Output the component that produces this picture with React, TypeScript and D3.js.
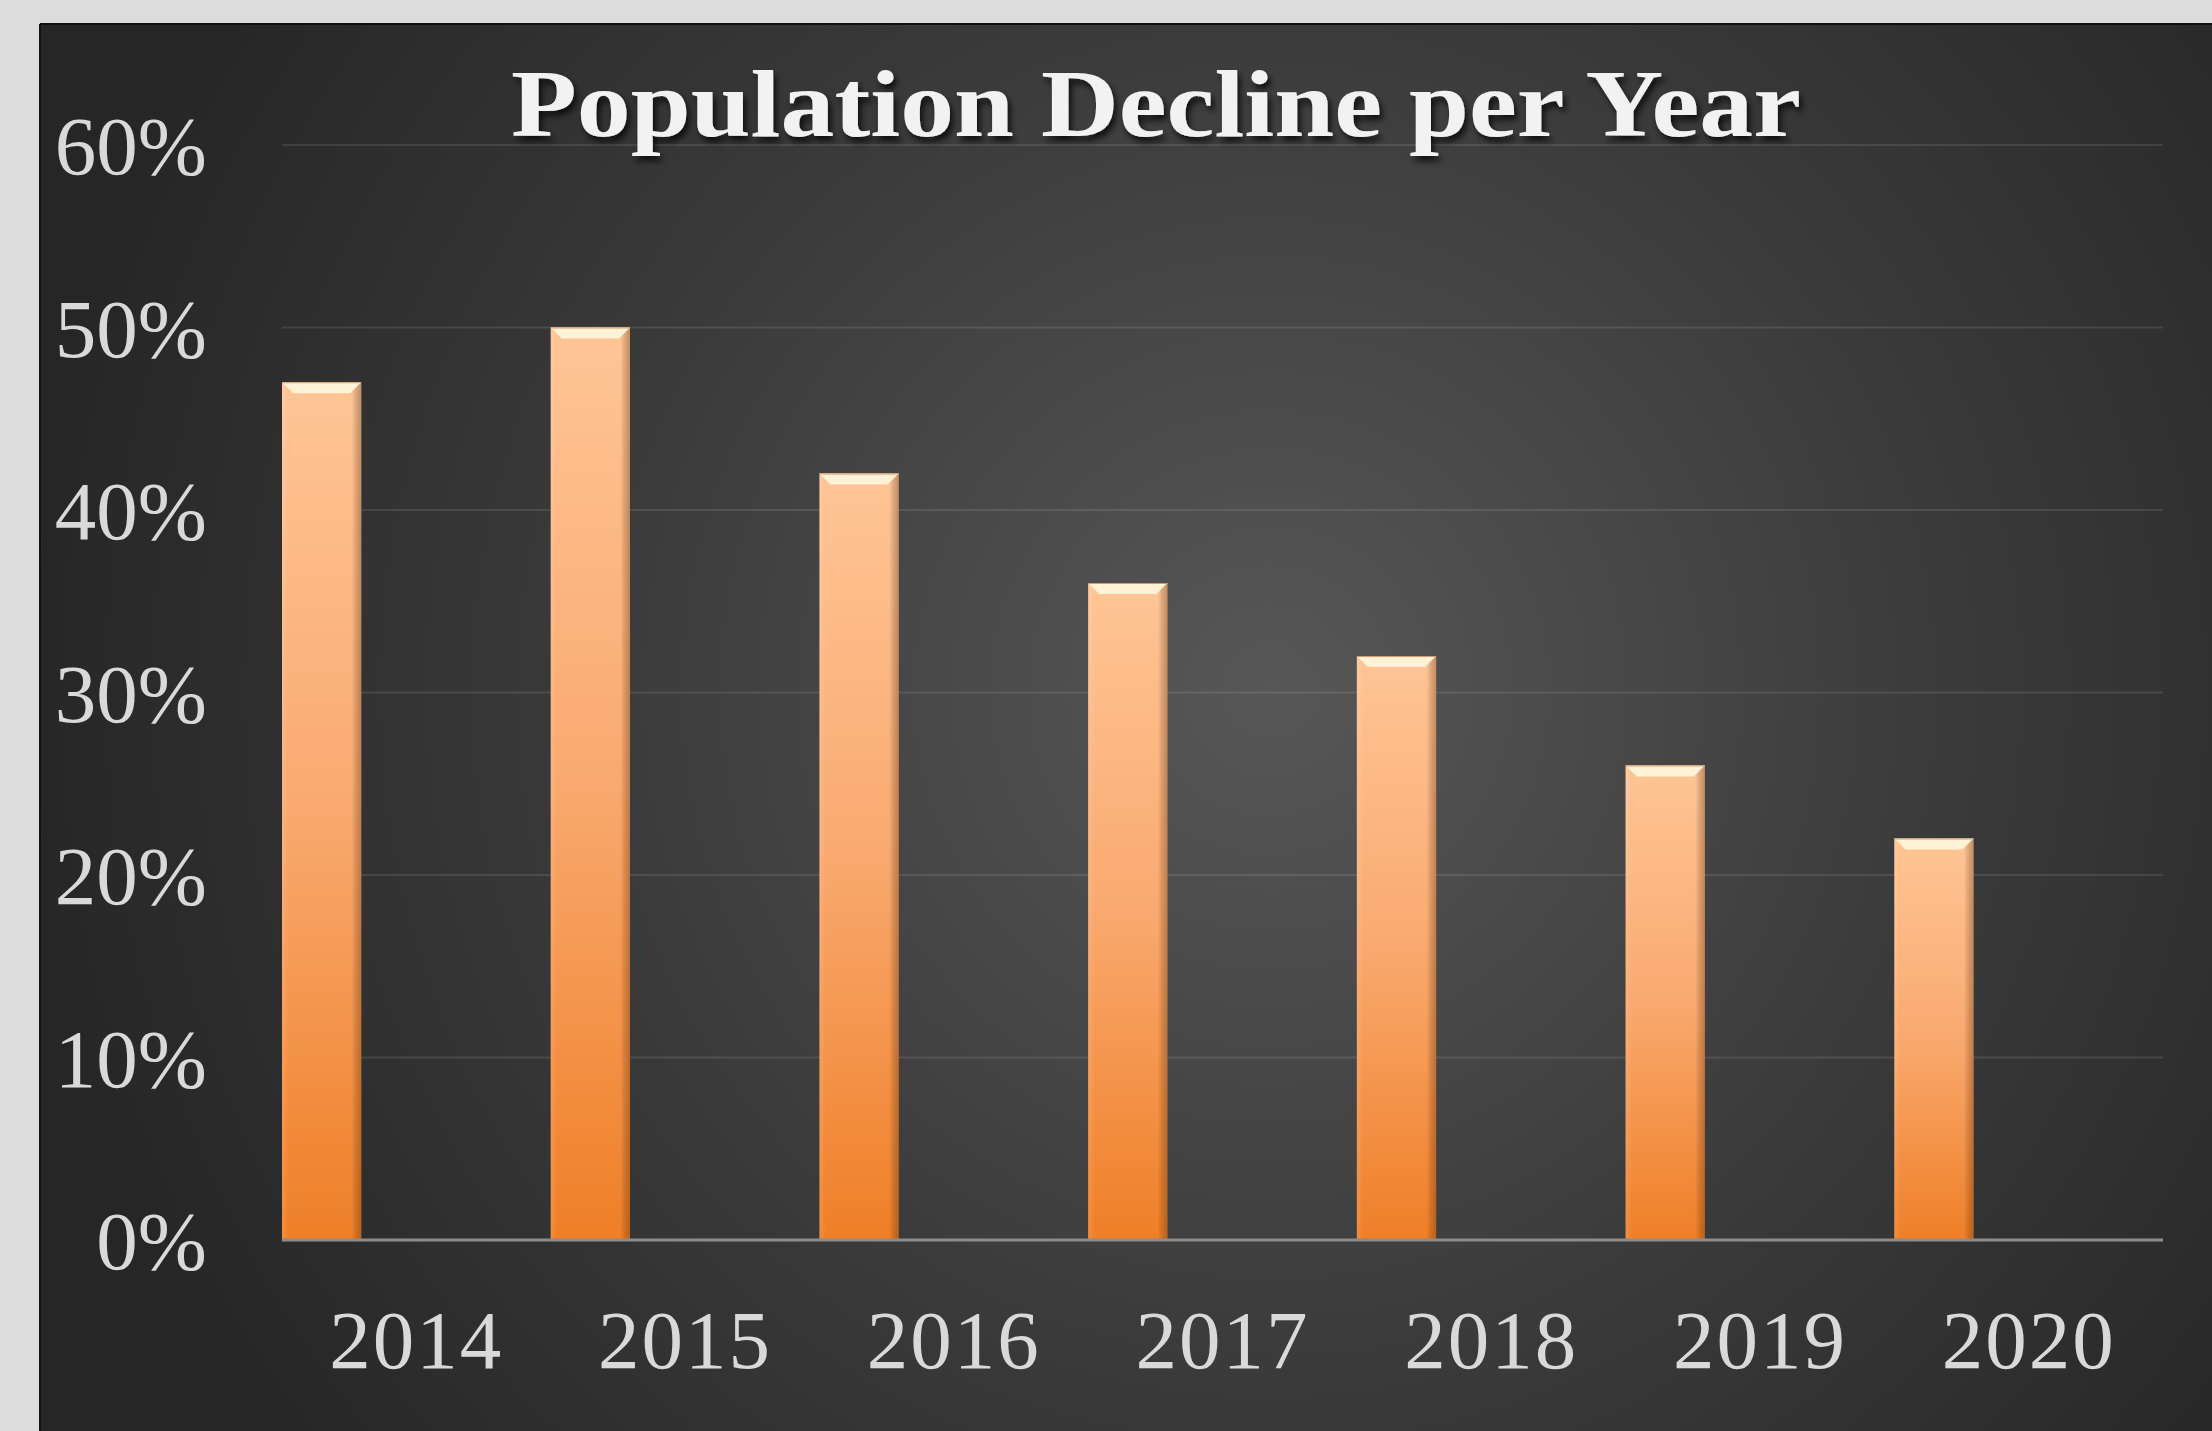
import React from "react";
import { scaleBand, scaleLinear } from "d3";

const years = ["2014", "2015", "2016", "2017", "2018", "2019", "2020"];
const declinePct = [47, 50, 42, 36, 32, 26, 22];
const yTicks = [0, 10, 20, 30, 40, 50, 60];
const title = "Population Decline per Year";

export default function App() {
  const width = 2212,
    height = 1431;
  const panelX = 40,
    panelY = 24;
  const plotLeft = 282,
    plotRight = 2163,
    plotTop = 145,
    plotBottom = 1240;

  const x = scaleBand<string>().domain(years).range([plotLeft, plotRight]).padding(0);
  const y = scaleLinear().domain([0, 60]).range([plotBottom, plotTop]);
  const barW = x.bandwidth() * 0.295;
  const bevel = 11;

  const font = "'Liberation Serif', 'DejaVu Serif', serif";

  return (
    <svg
      width={width}
      height={height}
      style={{ position: "absolute", left: 0, top: 0 }}
    >
      <defs>
        <radialGradient id="bg" cx="1270" cy="690" r="1250" gradientUnits="userSpaceOnUse">
          <stop offset="0" stopColor="#575757" />
          <stop offset="0.55" stopColor="#3a3a3a" />
          <stop offset="1" stopColor="#262626" />
        </radialGradient>
        <linearGradient id="barFill" x1="0" y1="0" x2="0" y2="1">
          <stop offset="0" stopColor="#ffc596" />
          <stop offset="0.5" stopColor="#f9a96f" />
          <stop offset="1" stopColor="#ef7f27" />
        </linearGradient>
        <linearGradient id="barSides" x1="0" y1="0" x2="1" y2="0">
          <stop offset="0" stopColor="#ffffff" stopOpacity="0.12" />
          <stop offset="0.08" stopColor="#ffffff" stopOpacity="0" />
          <stop offset="0.88" stopColor="#000000" stopOpacity="0" />
          <stop offset="1" stopColor="#5a2a00" stopOpacity="0.35" />
        </linearGradient>
        <filter id="shadow" x="-5%" y="-20%" width="110%" height="150%">
          <feDropShadow dx="3" dy="5" stdDeviation="3" floodColor="#000" floodOpacity="0.75" />
        </filter>
      </defs>

      <rect x={0} y={0} width={width} height={height} fill="#dcdcdc" />
      <rect x={panelX} y={panelY} width={width - panelX} height={height - panelY} fill="url(#bg)" />
      <line x1={panelX} y1={panelY} x2={width} y2={panelY} stroke="#111" strokeWidth={2} />
      <line x1={panelX} y1={panelY} x2={panelX} y2={height} stroke="#111" strokeWidth={2} />

      {yTicks.map(t =>
        t === 0 ? null : (
          <line
            key={"g" + t}
            x1={plotLeft}
            x2={plotRight}
            y1={y(t)}
            y2={y(t)}
            stroke="#ffffff"
            strokeOpacity={0.1}
            strokeWidth={2}
          />
        )
      )}

      {yTicks.map(t => (
        <text
          key={"t" + t}
          x={207}
          y={y(t)}
          dy="0.35em"
          textAnchor="end"
          fill="#d9d9d9"
          fontFamily={font}
          fontSize={83}
        >
          {t + "%"}
        </text>
      ))}

      {years.map((yr, i) => {
        const bx = x(yr)!;
        const top = y(declinePct[i]);
        const h = plotBottom - top;
        return (
          <g key={yr}>
            <rect x={bx} y={top} width={barW} height={h} fill="url(#barFill)" />
            <rect x={bx} y={top} width={barW} height={h} fill="url(#barSides)" />
            <polygon
              points={`${bx},${top} ${bx + barW},${top} ${bx + barW - bevel},${top + bevel} ${bx + bevel},${top + bevel}`}
              fill="#fff2d6"
            />
            <line x1={bx} x2={bx + barW} y1={top + 0.5} y2={top + 0.5} stroke="#d89a6a" strokeWidth={1} />
          </g>
        );
      })}

      <line x1={plotLeft} x2={plotRight} y1={plotBottom} y2={plotBottom} stroke="#8c8c8c" strokeWidth={3} />

      {years.map(yr => (
        <text
          key={"x" + yr}
          x={x(yr)! + x.bandwidth() / 2}
          y={1368}
          textAnchor="middle"
          fill="#d9d9d9"
          fontFamily={font}
          fontSize={83}
          letterSpacing={2}
        >
          {yr}
        </text>
      ))}

      <text
        x={1156}
        y={136}
        textAnchor="middle"
        fill="#f2f2f2"
        fontFamily={font}
        fontWeight="bold"
        fontSize={96}
        textLength={1290}
        lengthAdjust="spacingAndGlyphs"
        filter="url(#shadow)"
      >
        {title}
      </text>
    </svg>
  );
}
